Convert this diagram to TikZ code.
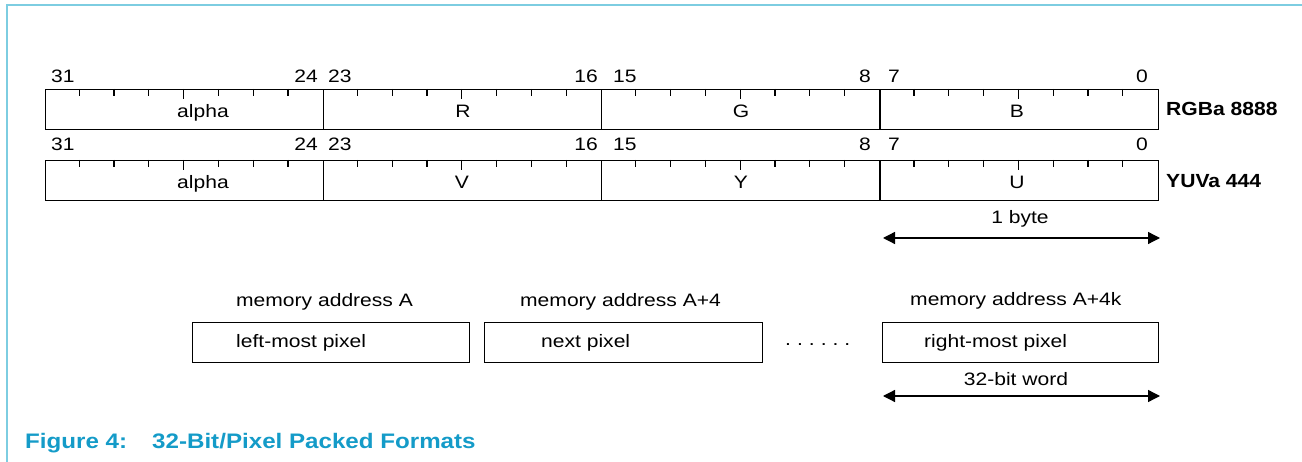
\documentclass[tikz,border=0pt]{standalone}
\usepackage{fontspec}
\setmainfont{Liberation Sans}[FakeStretch=1.17]
\newfontfamily\capfont{Liberation Sans}[FakeStretch=1.15]
\newfontfamily\labfont{Liberation Sans}[FakeStretch=1.11]
\usetikzlibrary{arrows.meta}
\definecolor{bordercol}{RGB}{125,205,225}
\definecolor{capcol}{RGB}{20,155,200}
\tikzset{
  txt/.style={font=\fontsize{18}{21}\selectfont, inner sep=0pt},
  lab/.style={font=\labfont\bfseries\fontsize{19}{22}\selectfont, inner sep=0pt, anchor=base west},
  field/.style={draw, line width=1.4pt, minimum height=40pt, minimum width=278.25pt, inner sep=0pt, anchor=north west},
  membox/.style={draw, line width=1.4pt, minimum height=40pt, inner sep=0pt, anchor=north west},
  tick/.style={line width=1.2pt},
  dimarrow/.style={line width=1.3pt, {Triangle[length=12pt,width=12pt]}-{Triangle[length=12pt,width=12pt]}},
  captxt/.style={inner sep=0pt, anchor=base west, text=capcol, font=\capfont\bfseries\fontsize{21}{25}\selectfont}
}
\begin{document}
\begin{tikzpicture}[x=1pt,y=-1pt]
\useasboundingbox (0,0) rectangle (1302,462);
% frame
\draw[bordercol, line width=2pt] (7,462) -- (7,5) -- (1302,5);
% rows
\foreach \r/\top in {1/89,2/160}{
  \foreach \b/\nm in {0/a,1/b,2/c,3/d}{
    \node[field] (f\r\nm) at ({44.5+\b*278.25},\top) {};
    \foreach \k in {1,...,7}{
      \pgfmathsetmacro\xx{44.5+\b*278.25+\k*34.78125}
      \pgfmathsetmacro\len{ifthenelse(\k==4,10,7)}
      \draw[tick] (\xx,\top) -- ++(0,\len);
    }
  }
}
% bit numbers
\foreach \r/\bl in {1/83,2/151}{
  \node[txt, anchor=base west] (n31\r) at (51,\bl) {31};
  \node[txt, anchor=base east] (n24\r) at (318,\bl) {24};
  \node[txt, anchor=base west] (n23\r) at (328,\bl) {23};
  \node[txt, anchor=base east] (n16\r) at (598,\bl) {16};
  \node[txt, anchor=base west] (n15\r) at (613,\bl) {15};
  \node[txt, anchor=base east] (n8\r) at (871,\bl) {8};
  \node[txt, anchor=base west] (n7\r) at (888,\bl) {7};
  \node[txt, anchor=base east] (n0\r) at (1148,\bl) {0};
}
% field labels
\node[txt, anchor=base] (la1) at (203,118) {alpha};
\node[txt, anchor=base] (lr) at (463,118) {R};
\node[txt, anchor=base] (lg) at (741,118) {G};
\node[txt, anchor=base] (lb) at (1017,118) {B};
\node[txt, anchor=base] (la2) at (203,189) {alpha};
\node[txt, anchor=base] (lv) at (462,189) {V};
\node[txt, anchor=base] (ly) at (741,189) {Y};
\node[txt, anchor=base] (lu) at (1017,189) {U};
% format labels
\node[lab] (rgba) at (1166,116) {RGBa 8888};
\node[lab] (yuva) at (1166,188) {YUVa 444};
% 1 byte arrow
\node[txt, anchor=base] (onebyte) at (1020,224) {1 byte};
\coordinate (bl) at (883,238);
\coordinate (br) at (1160,238);
\draw[dimarrow] (bl) -- (br);
% memory
\node[txt, anchor=base west] (ma1) at (236,307) {memory address A};
\node[txt, anchor=base west] (ma2) at (520,307) {memory address A+4};
\node[txt, anchor=base west] (ma3) at (910,306) {memory address A+4k};
\node[membox, minimum width=277pt] (m1) at (192,322) {};
\node[membox, minimum width=278pt] (m2) at (484,322) {};
\node[membox, minimum width=276pt] (m3) at (882,322) {};
\node[txt, anchor=base west] (p1) at (236,348) {left-most pixel};
\node[txt, anchor=base west] (p2) at (541,348) {next pixel};
\node[txt, anchor=base west] (p3) at (924,348) {right-most pixel};
\node[txt, anchor=base west] (dots) at (785,346) {.\kern6pt.\kern6pt.\kern6pt.\kern6pt.\kern6pt.};
\node[txt, anchor=base] (word) at (1016,385) {32-bit word};
\coordinate (wl) at (883,396);
\coordinate (wr) at (1160,396);
\draw[dimarrow] (wl) -- (wr);
% caption
\node[captxt] (cap1) at (25,448) {Figure 4:};
\node[captxt] (cap2) at (152,448) {32-Bit/Pixel Packed Formats};
\end{tikzpicture}
\end{document}
